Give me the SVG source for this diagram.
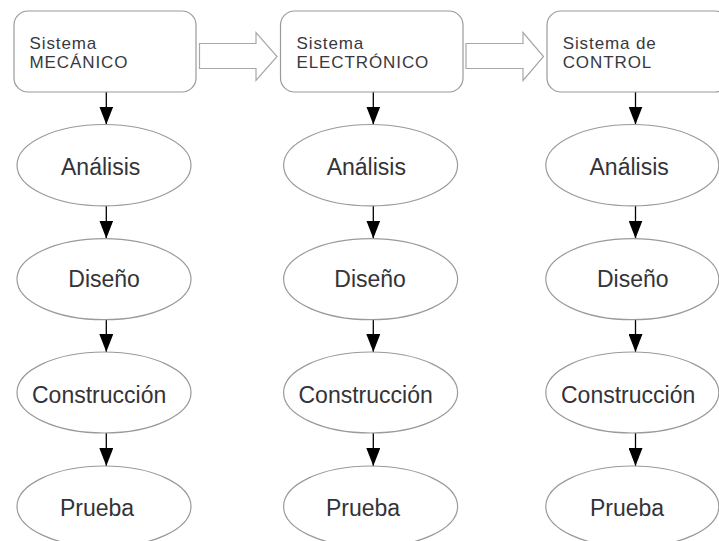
<svg xmlns="http://www.w3.org/2000/svg" width="719" height="541" viewBox="0 0 719 541">
<style>
.bg{fill:#ffffff}
.box{fill:#ffffff;stroke:#9a9a9a;stroke-width:1.2}
.ell{fill:#ffffff;stroke:#9a9a9a;stroke-width:1.2}
.blk{fill:#ffffff;stroke:#a8a8a8;stroke-width:1.2}
.bt{font-family:"Liberation Sans",Arial,sans-serif;font-size:17px;letter-spacing:0.9px;fill:#383840}
.et{font-family:"Liberation Sans",Arial,sans-serif;font-size:23px;fill:#333338}
.con{stroke:#000000;stroke-width:1.3;fill:none;marker-end:url(#ah)}
</style>
<defs>
<marker id="ah" markerUnits="userSpaceOnUse" markerWidth="18" markerHeight="14" refX="18" refY="7" orient="auto">
<path d="M0,0 L18,7 L0,14 Z" fill="#000000"/>
</marker>
</defs>
<rect class="bg" x="0" y="0" width="719" height="541"/>

<g id="connectors">
<polygon class="blk" points="199.5,43.5 256,43.5 256,32.5 277,56.5 256,80.5 256,68.5 199.5,68.5"/>
<polygon class="blk" points="466,43.5 523,43.5 523,32.5 543.5,56.5 523,80.5 523,68.5 466,68.5"/>
<line class="con" x1="106.3" y1="92" x2="106.3" y2="124.5"/>
<line class="con" x1="106.3" y1="206" x2="106.3" y2="238.5"/>
<line class="con" x1="106.3" y1="319.5" x2="106.3" y2="352"/>
<line class="con" x1="106.3" y1="433" x2="106.3" y2="466"/>
<line class="con" x1="373.3" y1="92" x2="373.3" y2="124.5"/>
<line class="con" x1="373.3" y1="206" x2="373.3" y2="238.5"/>
<line class="con" x1="373.3" y1="319.5" x2="373.3" y2="352"/>
<line class="con" x1="373.3" y1="433" x2="373.3" y2="466"/>
<line class="con" x1="635.5" y1="92" x2="635.5" y2="124.5"/>
<line class="con" x1="635.5" y1="206" x2="635.5" y2="238.5"/>
<line class="con" x1="635.5" y1="319.5" x2="635.5" y2="352"/>
<line class="con" x1="635.5" y1="433" x2="635.5" y2="466"/>
</g>

<g id="sistema-mecanico">
<rect class="box" x="14" y="11" width="182" height="81" rx="14" ry="14"/>
<text class="bt" x="29.5" y="48.5">Sistema</text>
<text class="bt" x="29.5" y="68">MECÁNICO</text>
</g>
<g id="sistema-electronico">
<rect class="box" x="280.5" y="11" width="182.5" height="81" rx="14" ry="14"/>
<text class="bt" x="296.5" y="48.5">Sistema</text>
<text class="bt" x="296.5" y="68">ELECTRÓNICO</text>
</g>
<g id="sistema-control">
<rect class="box" x="547" y="11" width="182" height="81" rx="14" ry="14"/>
<text class="bt" x="562.7" y="48.5">Sistema de</text>
<text class="bt" x="562.7" y="68">CONTROL</text>
</g>

<g id="analisis-1"><ellipse class="ell" cx="104" cy="165.2" rx="87" ry="40.7"/><text class="et" x="61" y="175">Análisis</text></g>
<g id="diseno-1"><ellipse class="ell" cx="104" cy="279.2" rx="87" ry="40.5"/><text class="et" x="68.3" y="286.8">Diseño</text></g>
<g id="construccion-1"><ellipse class="ell" cx="104" cy="392.5" rx="87" ry="40.5"/><text class="et" x="32" y="403.3">Construcción</text></g>
<g id="prueba-1"><ellipse class="ell" cx="104" cy="506.5" rx="87" ry="40.5"/><text class="et" x="60" y="516">Prueba</text></g>

<g id="analisis-2"><ellipse class="ell" cx="370.6" cy="165.2" rx="87" ry="40.7"/><text class="et" x="326.7" y="175">Análisis</text></g>
<g id="diseno-2"><ellipse class="ell" cx="370.6" cy="279.2" rx="87" ry="40.5"/><text class="et" x="334.3" y="286.8">Diseño</text></g>
<g id="construccion-2"><ellipse class="ell" cx="370.6" cy="392.5" rx="87" ry="40.5"/><text class="et" x="298.5" y="403.3">Construcción</text></g>
<g id="prueba-2"><ellipse class="ell" cx="370.6" cy="506.5" rx="87" ry="40.5"/><text class="et" x="326" y="516">Prueba</text></g>

<g id="analisis-3"><ellipse class="ell" cx="632.3" cy="165.2" rx="86.5" ry="40.7"/><text class="et" x="589.5" y="175">Análisis</text></g>
<g id="diseno-3"><ellipse class="ell" cx="632.3" cy="279.2" rx="86.5" ry="40.5"/><text class="et" x="597" y="286.8">Diseño</text></g>
<g id="construccion-3"><ellipse class="ell" cx="632.3" cy="392.5" rx="86.5" ry="40.5"/><text class="et" x="561" y="403.3">Construcción</text></g>
<g id="prueba-3"><ellipse class="ell" cx="632.3" cy="506.5" rx="86.5" ry="40.5"/><text class="et" x="590" y="516">Prueba</text></g>
</svg>
